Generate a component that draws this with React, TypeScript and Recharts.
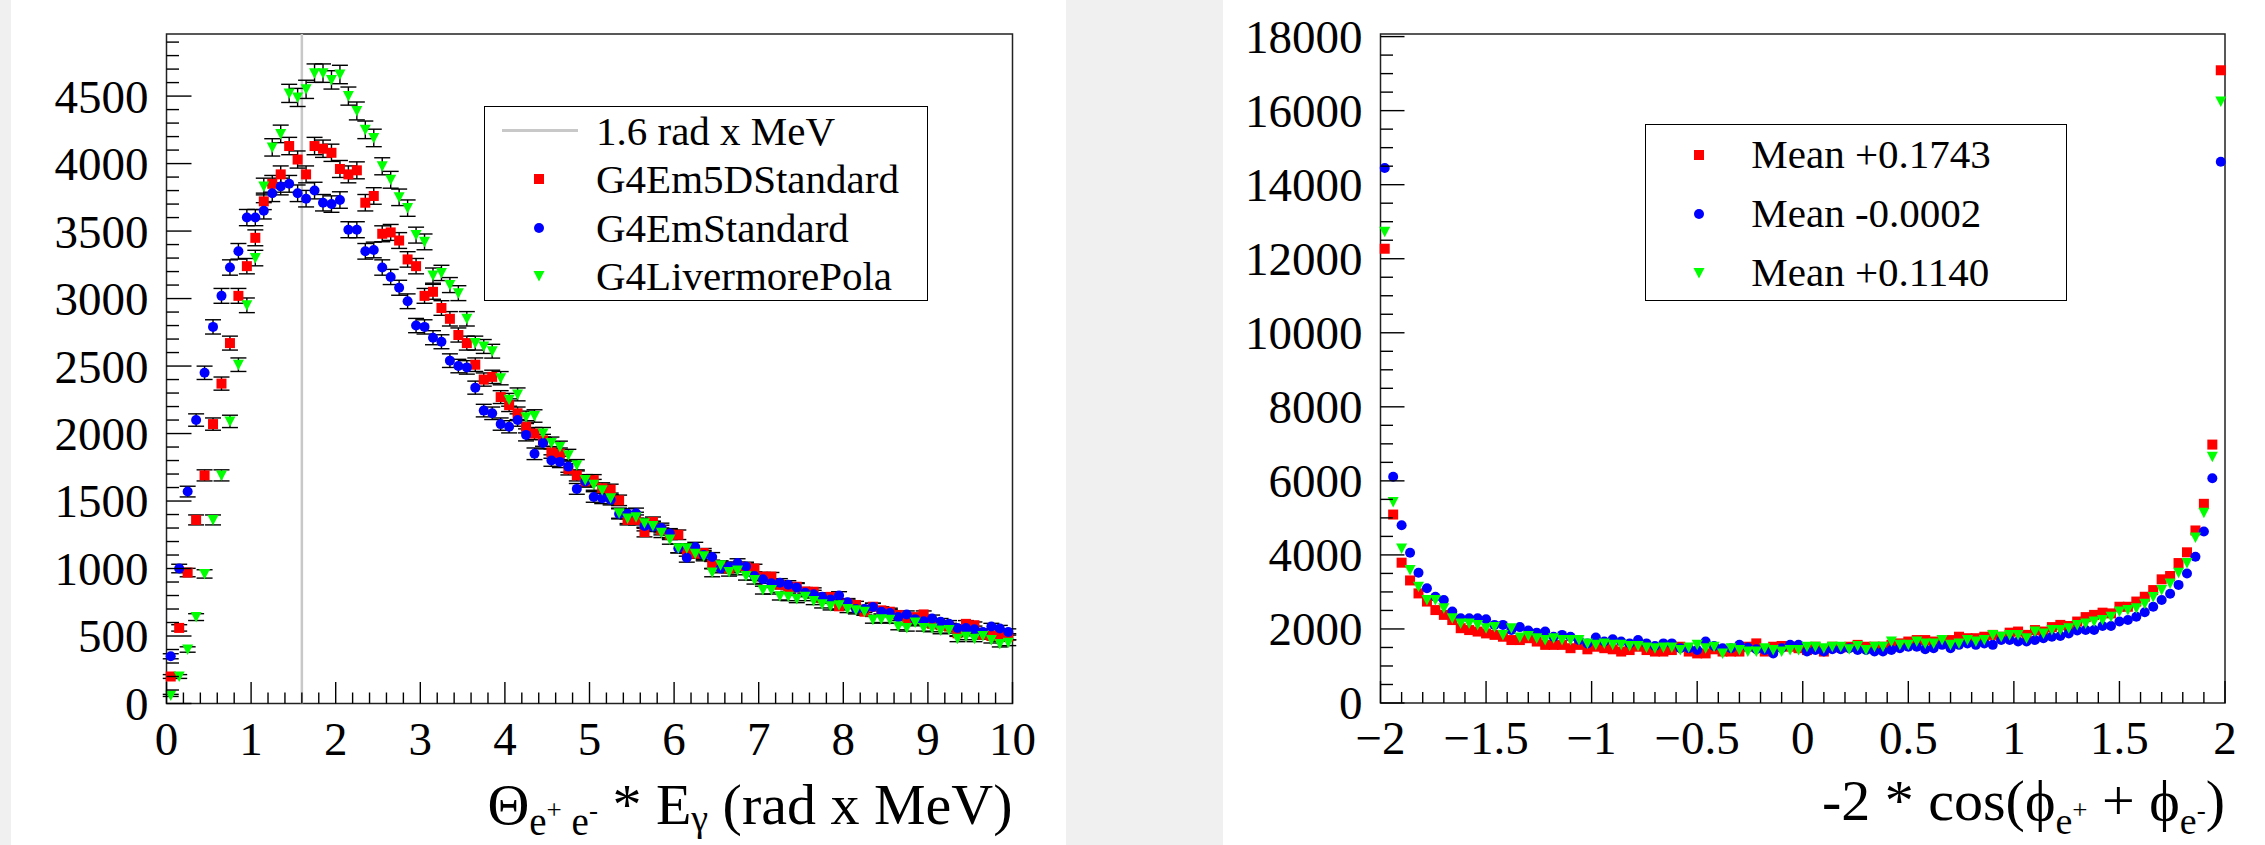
import React from "react";
import {
  ScatterChart,
  Scatter,
  XAxis,
  YAxis,
  ErrorBar,
  ReferenceLine,
  ReferenceArea,
  Legend,
} from "recharts";

const FONT = '"Liberation Serif", "Times New Roman", serif';

// left pad: Theta(e+e-) * E_gamma, 100 bins on [0, 10]
const thetaLow = 0;
const thetaBinWidth = 0.1;
const thetaYMax = 4960;
const thetaEm5D = [
  200, 560, 970, 1360, 1690, 2070, 2370, 2670, 3020, 3240,
  3450, 3720, 3850, 3920, 4130, 4030, 3920, 4130, 4110, 4080,
  3960, 3920, 3950, 3710, 3760, 3480, 3490, 3430, 3290, 3240,
  3020, 3050, 2930, 2850, 2730, 2670, 2510, 2400, 2420, 2270,
  2210, 2150, 2050, 2000, 1950, 1860, 1850, 1735, 1690, 1645,
  1655, 1595, 1585, 1505, 1360, 1360, 1270, 1345, 1285, 1250,
  1250, 1125, 1110, 1115, 1030, 1015, 1000, 1015, 1010, 1000,
  940, 940, 880, 860, 865, 830, 828, 780, 790, 720,
  740, 730, 680, 717, 690, 680, 656, 620, 640, 660,
  590, 580, 570, 520, 590, 580, 510, 500, 510, 495,
];
const thetaEmStd = [
  350, 1000, 1570, 2100, 2450, 2790, 3020, 3230, 3350, 3600,
  3600, 3650, 3780, 3830, 3850, 3780, 3740, 3800, 3710, 3700,
  3730, 3510, 3510, 3350, 3360, 3230, 3160, 3080, 2980, 2800,
  2790, 2710, 2680, 2540, 2500, 2490, 2340, 2170, 2150, 2070,
  2050, 2100, 1990, 1850, 1930, 1800, 1790, 1755, 1590, 1645,
  1530, 1520, 1510, 1405, 1405, 1410, 1315, 1310, 1300, 1260,
  1150, 1080, 1160, 1100, 1085, 1000, 1015, 1040, 1015, 945,
  920, 890, 895, 880, 860, 820, 810, 790, 770, 800,
  750, 700, 700, 715, 680, 670, 640, 660, 625, 610,
  630, 605, 590, 560, 560, 550, 530, 570, 555, 530,
];
const thetaLivermore = [
  60, 200, 400, 640, 960, 1360, 1690, 2090, 2510, 2950,
  3300, 3830, 4120, 4220, 4520, 4490, 4550, 4670, 4670, 4620,
  4660, 4500, 4390, 4250, 4190, 3980, 3880, 3750, 3670, 3470,
  3420, 3170, 3190, 3100, 3040, 2850, 2670, 2645, 2610, 2410,
  2250, 2290, 2120, 2130, 2000, 1930, 1900, 1840, 1765, 1655,
  1620, 1580, 1520, 1410, 1370, 1380, 1335, 1315, 1265, 1215,
  1150, 1150, 1110, 1090, 970, 1025, 975, 985, 945, 915,
  840, 840, 795, 790, 775, 790, 760, 735, 720, 728,
  700, 690, 680, 620, 625, 620, 570, 560, 600, 560,
  555, 540, 545, 480, 495, 480, 500, 470, 440, 450,
];

// right pad: -2 cos(phi+ + phi-), 100 bins on [-2, 2]
const phiLow = -2;
const phiBinWidth = 0.04;
const phiYMax = 18070;
const phiEm5D = [
  12270, 5090, 3790, 3310, 2960, 2740, 2510, 2380, 2240, 2020,
  1970, 1930, 1880, 1840, 1790, 1700, 1700, 1750, 1660, 1570,
  1570, 1570, 1480, 1570, 1450, 1520, 1480, 1450, 1390, 1430,
  1520, 1430, 1390, 1390, 1430, 1520, 1390, 1340, 1340, 1450,
  1390, 1390, 1390, 1520, 1610, 1390, 1520, 1540, 1520, 1480,
  1430, 1520, 1390, 1520, 1500, 1520, 1570, 1520, 1520, 1520,
  1570, 1610, 1660, 1700, 1700, 1660, 1660, 1700, 1790, 1750,
  1750, 1790, 1840, 1790, 1900, 1930, 1840, 1970, 1930, 2050,
  2110, 2080, 2200, 2320, 2380, 2440, 2420, 2600, 2600, 2740,
  2870, 3050, 3340, 3430, 3780, 4070, 4660, 5380, 6980, 17090,
];
const phiEmStd = [
  14450, 6110, 4800, 4060, 3520, 3100, 2870, 2780, 2470, 2290,
  2290, 2290, 2260, 2110, 2110, 1970, 2050, 1960, 1900, 1930,
  1790, 1840, 1790, 1700, 1610, 1770, 1660, 1720, 1660, 1610,
  1700, 1610, 1540, 1610, 1610, 1480, 1480, 1430, 1660, 1540,
  1480, 1480, 1570, 1500, 1450, 1430, 1340, 1480, 1570, 1570,
  1390, 1430, 1390, 1450, 1450, 1480, 1430, 1430, 1390, 1390,
  1430, 1480, 1520, 1520, 1450, 1480, 1570, 1480, 1570, 1610,
  1570, 1610, 1570, 1700, 1700, 1660, 1660, 1700, 1750, 1790,
  1810, 1880, 1960, 1970, 1970, 2080, 2080, 2200, 2240, 2330,
  2450, 2600, 2780, 2950, 3190, 3500, 3950, 4630, 6070, 14620,
];
const phiLivermore = [
  12730, 5430, 4170, 3590, 3140, 2780, 2780, 2560, 2290, 2150,
  2150, 2110, 2020, 2050, 1840, 2020, 1770, 1810, 1750, 1700,
  1750, 1700, 1700, 1700, 1610, 1570, 1610, 1570, 1570, 1540,
  1540, 1500, 1480, 1500, 1500, 1430, 1500, 1570, 1480, 1520,
  1340, 1480, 1430, 1390, 1390, 1480, 1430, 1390, 1430, 1430,
  1520, 1520, 1480, 1520, 1520, 1450, 1540, 1430, 1520, 1520,
  1660, 1570, 1570, 1660, 1610, 1610, 1700, 1570, 1610, 1700,
  1660, 1700, 1840, 1790, 1840, 1840, 1750, 1930, 1880, 1970,
  1970, 2020, 2110, 2150, 2200, 2240, 2330, 2470, 2510, 2560,
  2680, 2860, 3050, 3230, 3520, 3780, 4470, 5140, 6650, 16250,
];

const modelNames = ["G4Em5DStandard", "G4EmStandard", "G4LivermorePola"];
const phiMeans = ["Mean +0.1743", "Mean -0.0002", "Mean +0.1140"];
const cutLabel = "1.6 rad x MeV";
const cutValue = 1.6;

const thetaXMajor = [0, 1, 2, 3, 4, 5, 6, 7, 8, 9, 10];
const thetaYMajor = [0, 500, 1000, 1500, 2000, 2500, 3000, 3500, 4000, 4500];
const phiXMajor = [-2, -1.5, -1, -0.5, 0, 0.5, 1, 1.5, 2];
const phiYMajor = [0, 2000, 4000, 6000, 8000, 10000, 12000, 14000, 16000, 18000];

const RED = "#ff0000";
const BLUE = "#0000ff";
const GREEN = "#00ff00";
const TICK_FONT = 47;
const TITLE_FONT = 58;

function toBins(values: number[], low: number, width: number, withErr: boolean) {
  return values.map((v, i) => ({
    x: low + (i + 0.5) * width,
    y: v,
    err: withErr ? Math.sqrt(v) : 0,
  }));
}

// majors + minors, ROOT style
function tickList(low: number, high: number, step: number) {
  const out: number[] = [];
  const n = Math.round((high - low) / step);
  for (let k = 0; k <= n; k++) out.push(+(low + k * step).toFixed(4));
  return out;
}

const isMajor = (majors: number[], v: number) => majors.some((m) => Math.abs(m - v) < 1e-6);

const fmtSigned = (v: number) => (v < 0 ? "\u2212" + Math.abs(v) : String(v));

function BottomTick(props: any) {
  const { x, y, payload, majors, major, minor, fmt } = props;
  const big = isMajor(majors, payload.value);
  return (
    <g>
      <line x1={x} x2={x} y1={y} y2={y - (big ? major : minor)} stroke="#000" strokeWidth={1.4} />
      {big && (
        <text x={x} y={y + 51} textAnchor="middle" fontFamily={FONT} fontSize={TICK_FONT} fill="#000">
          {fmt ? fmt(payload.value) : String(payload.value)}
        </text>
      )}
    </g>
  );
}

function LeftTick(props: any) {
  const { x, y, payload, majors, major, minor } = props;
  const big = isMajor(majors, payload.value);
  return (
    <g>
      <line x1={x} x2={x + (big ? major : minor)} y1={y} y2={y} stroke="#000" strokeWidth={1.4} />
      {big && (
        <text x={x - 18} y={y} dy="0.35em" textAnchor="end" fontFamily={FONT} fontSize={TICK_FONT} fill="#000">
          {String(payload.value)}
        </text>
      )}
    </g>
  );
}

const squareShape = (p: any) => <rect x={p.cx - 5} y={p.cy - 5} width={10} height={10} fill={RED} />;
const circleShape = (p: any) => <circle cx={p.cx} cy={p.cy} r={5} fill={BLUE} />;
const triangleShape = (p: any) => (
  <path d={`M${p.cx - 5.5},${p.cy - 5} L${p.cx + 5.5},${p.cy - 5} L${p.cx},${p.cy + 5.5} Z`} fill={GREEN} />
);

function LegendMarker({ kind }: { kind: string }) {
  return (
    <svg width={20} height={20} style={{ display: "block" }}>
      {kind === "square" && <rect x={5} y={5} width={10} height={10} fill={RED} />}
      {kind === "circle" && <circle cx={10} cy={10} r={5} fill={BLUE} />}
      {kind === "triangle" && <path d="M4.5,5 L15.5,5 L10,15.5 Z" fill={GREEN} />}
    </svg>
  );
}

const markerKinds = ["square", "circle", "triangle"];

function LegendBox({ width, height, rows, rowH, markerX, textX }: any) {
  return (
    <div
      style={{
        position: "relative",
        width,
        height,
        boxSizing: "border-box",
        border: "1.5px solid #000",
        background: "#fff",
        fontFamily: FONT,
        fontSize: 41,
        color: "#000",
      }}
    >
      {rows.map((r: any, i: number) => (
        <div key={i} style={{ position: "absolute", left: 0, top: i * rowH, width: "100%", height: rowH }}>
          {r.kind === "line" ? (
            <div
              style={{
                position: "absolute",
                left: markerX - 37,
                width: 76,
                top: rowH / 2 - 1.5,
                height: 3,
                background: "#c8c8c8",
              }}
            />
          ) : (
            <div style={{ position: "absolute", left: markerX - 10, top: rowH / 2 - 10 }}>
              <LegendMarker kind={r.kind} />
            </div>
          )}
          <div style={{ position: "absolute", left: textX, top: 0, lineHeight: `${rowH}px`, whiteSpace: "nowrap" }}>
            {r.label}
          </div>
        </div>
      ))}
    </div>
  );
}

function ThetaTitle(props: any) {
  const vb = props.viewBox || {};
  const right = vb.x + vb.width;
  const base = vb.y + 120.5;
  return (
    <text x={right} y={base} textAnchor="end" fontFamily={FONT} fontSize={TITLE_FONT} fill="#000">
      <tspan>Θ</tspan>
      <tspan fontSize={39} dy={11}>e</tspan>
      <tspan fontSize={27} dy={-16}>+</tspan>
      <tspan fontSize={39} dy={16}>{"\u00a0e"}</tspan>
      <tspan fontSize={27} dy={-16}>-</tspan>
      <tspan dy={5}>{"\u00a0*\u00a0E"}</tspan>
      <tspan fontSize={38} dy={7}>γ</tspan>
      <tspan dy={-7}>{"\u00a0(rad x MeV)"}</tspan>
    </text>
  );
}

function PhiTitle(props: any) {
  const vb = props.viewBox || {};
  const right = vb.x + vb.width;
  const base = vb.y + 117;
  return (
    <text x={right} y={base} textAnchor="end" fontFamily={FONT} fontSize={TITLE_FONT} fill="#000">
      <tspan>{"-2\u00a0*\u00a0cos(\u03d5"}</tspan>
      <tspan fontSize={38} dy={14}>e</tspan>
      <tspan fontSize={27} dy={-15}>+</tspan>
      <tspan dy={1}>{"\u00a0+\u00a0\u03d5"}</tspan>
      <tspan fontSize={38} dy={14}>e</tspan>
      <tspan fontSize={27} dy={-15}>-</tspan>
      <tspan dy={1}>)</tspan>
    </text>
  );
}

function ThetaPanel() {
  const em5d = toBins(thetaEm5D, thetaLow, thetaBinWidth, true);
  const emStd = toBins(thetaEmStd, thetaLow, thetaBinWidth, true);
  const liv = toBins(thetaLivermore, thetaLow, thetaBinWidth, true);
  const rows = [
    { kind: "line", label: cutLabel },
    ...modelNames.map((n, i) => ({ kind: markerKinds[i], label: n })),
  ];
  return (
    <ScatterChart width={1055} height={845} margin={{ top: 34, right: 53.5, left: 0, bottom: 0 }}>
      <XAxis
        type="number"
        dataKey="x"
        domain={[0, 10]}
        ticks={tickList(0, 10, 0.2)}
        interval={0}
        height={141.5}
        tickSize={0}
        tickMargin={0}
        axisLine={false}
        tickLine={false}
        tick={<BottomTick majors={thetaXMajor} major={21.5} minor={11} />}
        label={{ content: <ThetaTitle /> }}
      />
      <YAxis
        type="number"
        dataKey="y"
        domain={[0, thetaYMax]}
        ticks={tickList(0, 4900, 100)}
        interval={0}
        width={155.5}
        tickSize={0}
        tickMargin={0}
        axisLine={false}
        tickLine={false}
        tick={<LeftTick majors={thetaYMajor} major={25} minor={12.5} />}
      />
      <ReferenceArea x1={0} x2={10} y1={0} y2={thetaYMax} fill="none" fillOpacity={0} stroke="#222" strokeWidth={1.5} />
      <ReferenceLine x={cutValue} stroke="#c8c8c8" strokeWidth={2.5} />
      <Scatter name={modelNames[0]} data={em5d} fill={RED} shape={squareShape} isAnimationActive={false}>
        <ErrorBar dataKey="err" direction="y" width={8} stroke="#000" strokeWidth={1.4} />
      </Scatter>
      <Scatter name={modelNames[1]} data={emStd} fill={BLUE} shape={circleShape} isAnimationActive={false}>
        <ErrorBar dataKey="err" direction="y" width={8} stroke="#000" strokeWidth={1.4} />
      </Scatter>
      <Scatter name={modelNames[2]} data={liv} fill={GREEN} shape={triangleShape} isAnimationActive={false}>
        <ErrorBar dataKey="err" direction="y" width={8} stroke="#000" strokeWidth={1.4} />
      </Scatter>
      <Legend
        layout="vertical"
        align="center"
        verticalAlign="middle"
        wrapperStyle={{ left: 473, top: 105.6, width: 443.5, height: 195 }}
        content={() => <LegendBox width={443.5} height={195} rows={rows} rowH={48.5} markerX={53.5} textX={111} />}
      />
    </ScatterChart>
  );
}

function PhiPanel() {
  const em5d = toBins(phiEm5D, phiLow, phiBinWidth, false);
  const emStd = toBins(phiEmStd, phiLow, phiBinWidth, false);
  const liv = toBins(phiLivermore, phiLow, phiBinWidth, false);
  const rows = phiMeans.map((m, i) => ({ kind: markerKinds[i], label: m }));
  return (
    <ScatterChart width={1042} height={845} margin={{ top: 34, right: 40, left: 0, bottom: 0 }}>
      <XAxis
        type="number"
        dataKey="x"
        domain={[-2, 2]}
        ticks={tickList(-2, 2, 0.1)}
        interval={0}
        height={142}
        tickSize={0}
        tickMargin={0}
        axisLine={false}
        tickLine={false}
        tick={<BottomTick majors={phiXMajor} major={22} minor={11} fmt={fmtSigned} />}
        label={{ content: <PhiTitle /> }}
      />
      <YAxis
        type="number"
        dataKey="y"
        domain={[0, phiYMax]}
        ticks={tickList(0, 18000, 500)}
        interval={0}
        width={157.5}
        tickSize={0}
        tickMargin={0}
        axisLine={false}
        tickLine={false}
        tick={<LeftTick majors={phiYMajor} major={24} minor={12.5} />}
      />
      <ReferenceArea x1={-2} x2={2} y1={0} y2={phiYMax} fill="none" fillOpacity={0} stroke="#222" strokeWidth={1.5} />
      <Scatter name={phiMeans[0]} data={em5d} fill={RED} shape={squareShape} isAnimationActive={false} />
      <Scatter name={phiMeans[1]} data={emStd} fill={BLUE} shape={circleShape} isAnimationActive={false} />
      <Scatter name={phiMeans[2]} data={liv} fill={GREEN} shape={triangleShape} isAnimationActive={false} />
      <Legend
        layout="vertical"
        align="center"
        verticalAlign="middle"
        wrapperStyle={{ left: 421.7, top: 124, width: 422, height: 177 }}
        content={() => <LegendBox width={422} height={177} rows={rows} rowH={59} markerX={53.3} textX={105.6} />}
      />
    </ScatterChart>
  );
}

export default function App() {
  return (
    <div
      style={{
        position: "absolute",
        left: 0,
        top: 0,
        width: 2265,
        height: 845,
        background: "#f0f0f0",
        overflow: "hidden",
      }}
    >
      <div style={{ position: "absolute", left: 11, top: 0, width: 1055, height: 845, background: "#fff" }}>
        <ThetaPanel />
      </div>
      <div style={{ position: "absolute", left: 1223, top: 0, width: 1042, height: 845, background: "#fff" }}>
        <PhiPanel />
      </div>
    </div>
  );
}
